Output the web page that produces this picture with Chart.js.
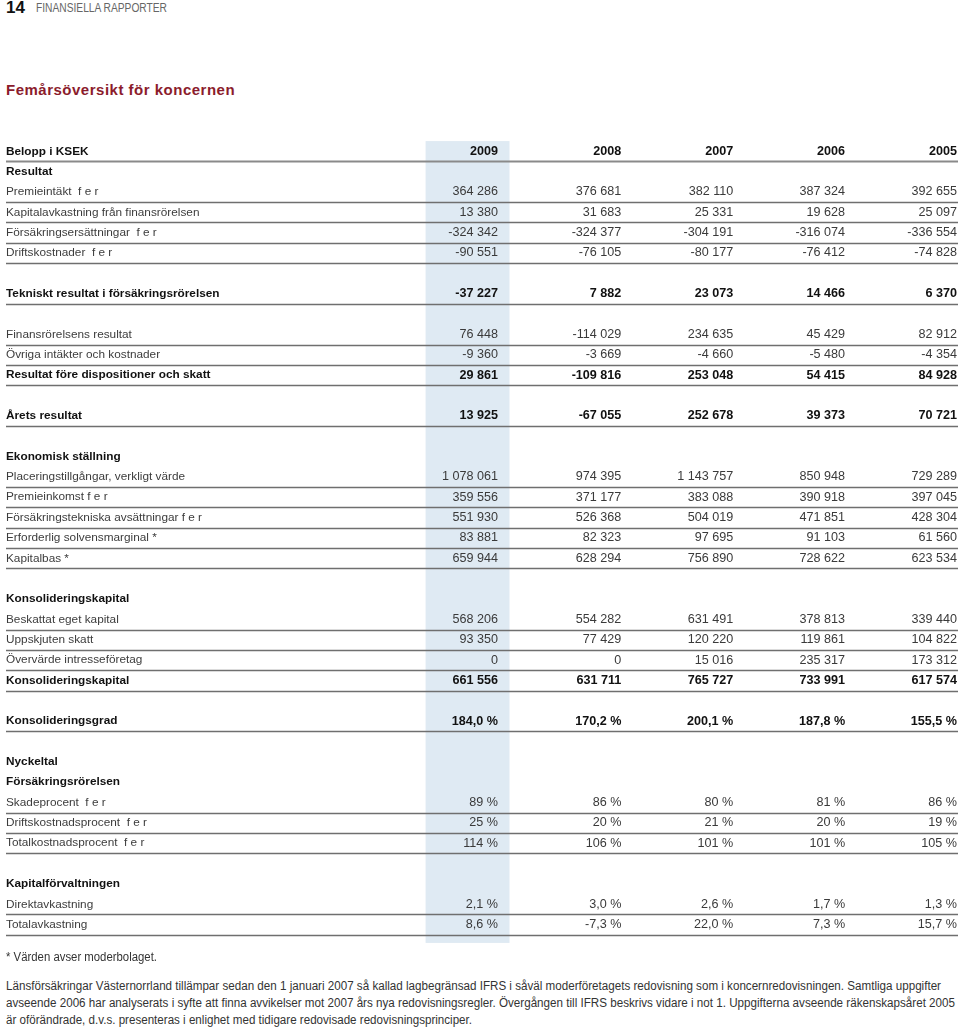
<!DOCTYPE html>
<html lang="sv">
<head>
<meta charset="utf-8">
<title>Femårsöversikt för koncernen</title>
<script src="https://cdn.jsdelivr.net/npm/chart.js@4.4.1/dist/chart.umd.min.js"></script>
<style>
  html, body { margin: 0; padding: 0; background: #fff; }
  body { width: 960px; height: 1028px; position: relative; overflow: hidden; font-family: "Liberation Sans", Arial, sans-serif; }
  .pageno { position: absolute; left: 6px; top: -1px; font-size: 17px; line-height: 18px; font-weight: bold; color: #111; }
  .section { position: absolute; left: 36px; top: 1px; font-size: 12.5px; line-height: 14px; color: #666; }
  .title { position: absolute; left: 6px; top: 81px; font-size: 15px; line-height: 18px; font-weight: bold; color: #8b1c2c; letter-spacing: 0.5px; }
  #wrap { position: absolute; left: 0; top: 134px; width: 960px; height: 816px; }
  .note { position: absolute; left: 6px; font-size: 12.5px; line-height: 17px; color: #333; white-space: nowrap; }
  .fit { display: inline-block; transform-origin: 0 50%; }
</style>
</head>
<body>
<div class="pageno">14</div>
<div class="section fit" data-w="131">FINANSIELLA RAPPORTER</div>
<div class="title">Femårsöversikt för koncernen</div>
<div id="wrap"><canvas id="tableChart"></canvas></div>
<div class="note fit" data-w="151" style="top:949px">* Värden avser moderbolaget.</div>
<div class="note fit" data-w="935" style="top:978px">Länsförsäkringar Västernorrland tillämpar sedan den 1 januari 2007 så kallad lagbegränsad IFRS i såväl moderföretagets redovisning som i koncernredovisningen. Samtliga uppgifter</div>
<div class="note fit" data-w="949" style="top:995px">avseende 2006 har analyserats i syfte att finna avvikelser mot 2007 års nya redovisningsregler. Övergången till IFRS beskrivs vidare i not 1. Uppgifterna avseende räkenskapsåret 2005</div>
<div class="note fit" data-w="466" style="top:1012px">är oförändrade, d.v.s. presenteras i enlighet med tidigare redovisade redovisningsprinciper.</div>
<script>
const years = [2009, 2008, 2007, 2006, 2005];
const highlightYear = 2009;

const premieintakt = [364286, 376681, 382110, 387324, 392655];
const kapitalavkastning = [13380, 31683, 25331, 19628, 25097];
const ersattningar = [-324342, -324377, -304191, -316074, -336554];
const driftskostnader = [-90551, -76105, -80177, -76412, -74828];
const tekniskt = [-37227, 7882, 23073, 14466, 6370];
const finansrorelsen = [76448, -114029, 234635, 45429, 82912];
const ovriga = [-9360, -3669, -4660, -5480, -4354];
const resultatFore = [29861, -109816, 253048, 54415, 84928];
const aretsResultat = [13925, -67055, 252678, 39373, 70721];
const placeringar = [1078061, 974395, 1143757, 850948, 729289];
const premieinkomst = [359556, 371177, 383088, 390918, 397045];
const avsattningar = [551930, 526368, 504019, 471851, 428304];
const solvensmarginal = [83881, 82323, 97695, 91103, 61560];
const kapitalbas = [659944, 628294, 756890, 728622, 623534];
const beskattat = [568206, 554282, 631491, 378813, 339440];
const uppskjuten = [93350, 77429, 120220, 119861, 104822];
const overvarde = [0, 0, 15016, 235317, 173312];
const konsKapital = [661556, 631711, 765727, 733991, 617574];
const konsGrad = [184.0, 170.2, 200.1, 187.8, 155.5];
const skadeprocent = [89, 86, 80, 81, 86];
const driftsprocent = [25, 20, 21, 20, 19];
const totalkostnad = [114, 106, 101, 101, 105];
const direktavkastning = [2.1, 3.0, 2.6, 1.7, 1.3];
const totalavkastning = [8.6, -7.3, 22.0, 7.3, 15.7];

// [label, values, format, bold]
const rows = [
  ["Belopp i KSEK", years, "year", true],
  ["Resultat", null, null, true],
  ["Premieintäkt  f e r", premieintakt, "int", false],
  ["Kapitalavkastning från finansrörelsen", kapitalavkastning, "int", false],
  ["Försäkringsersättningar  f e r", ersattningar, "int", false],
  ["Driftskostnader  f e r", driftskostnader, "int", false],
  ["", null, null, false],
  ["Tekniskt resultat i försäkringsrörelsen", tekniskt, "int", true],
  ["", null, null, false],
  ["Finansrörelsens resultat", finansrorelsen, "int", false],
  ["Övriga intäkter och kostnader", ovriga, "int", false],
  ["Resultat före dispositioner och skatt", resultatFore, "int", true],
  ["", null, null, false],
  ["Årets resultat", aretsResultat, "int", true],
  ["", null, null, false],
  ["Ekonomisk ställning", null, null, true],
  ["Placeringstillgångar, verkligt värde", placeringar, "int", false],
  ["Premieinkomst f e r", premieinkomst, "int", false],
  ["Försäkringstekniska avsättningar f e r", avsattningar, "int", false],
  ["Erforderlig solvensmarginal *", solvensmarginal, "int", false],
  ["Kapitalbas *", kapitalbas, "int", false],
  ["", null, null, false],
  ["Konsolideringskapital", null, null, true],
  ["Beskattat eget kapital", beskattat, "int", false],
  ["Uppskjuten skatt", uppskjuten, "int", false],
  ["Övervärde intresseföretag", overvarde, "int", false],
  ["Konsolideringskapital", konsKapital, "int", true],
  ["", null, null, false],
  ["Konsolideringsgrad", konsGrad, "pct1", true],
  ["", null, null, false],
  ["Nyckeltal", null, null, true],
  ["Försäkringsrörelsen", null, null, true],
  ["Skadeprocent  f e r", skadeprocent, "pct0", false],
  ["Driftskostnadsprocent  f e r", driftsprocent, "pct0", false],
  ["Totalkostnadsprocent  f e r", totalkostnad, "pct0", false],
  ["", null, null, false],
  ["Kapitalförvaltningen", null, null, true],
  ["Direktavkastning", direktavkastning, "pct1", false],
  ["Totalavkastning", totalavkastning, "pct1", false]
];

const labelFont = "'Liberation Sans', Arial, sans-serif";

function groupDigits(n) {
  const s = String(Math.abs(n)).replace(/\B(?=(\d{3})+(?!\d))/g, " ");
  return (n < 0 ? "-" : "") + s;
}

function formatCell(v, kind) {
  if (kind === "year") return String(v);
  if (kind === "int") return groupDigits(v);
  if (kind === "pct0") return v + " %";
  return v.toFixed(1).replace(".", ",") + " %";
}

const tablePlugin = {
  id: "tablePlugin",
  beforeDraw(chart) {
    const { ctx, chartArea, scales: { x } } = chart;
    const left = x.getPixelForValue(highlightYear + 0.75);
    const right = x.getPixelForValue(highlightYear);
    ctx.save();
    ctx.fillStyle = "#dfeaf3";
    ctx.fillRect(left, chartArea.top, right - left, chartArea.bottom - chartArea.top);
    ctx.restore();
  },
  afterDraw(chart) {
    const { ctx, chartArea, scales: { x, y } } = chart;
    ctx.save();
    ctx.textBaseline = "middle";
    ctx.textAlign = "right";
    rows.forEach((row, i) => {
      const [, values, kind, bold] = row;
      if (!values) return;
      const py = y.getPixelForValue(i);
      ctx.font = (bold ? "bold " : "") + "12.6px " + labelFont;
      ctx.fillStyle = bold ? "#111" : "#3a3a3a";
      values.forEach((v, j) => {
        const yr = years[j];
        const px = x.getPixelForValue(yr) - (yr === highlightYear ? 11.5 : 0);
        ctx.fillText(formatCell(v, kind), px, py);
      });
      const ly = Math.round(y.getPixelForValue(i + 0.5)) + 0.5;
      ctx.strokeStyle = i === 0 ? "#8a8a8a" : "#6f6f6f";
      ctx.lineWidth = i === 0 ? 2 : 1.4;
      ctx.beginPath();
      ctx.moveTo(6, ly);
      ctx.lineTo(chartArea.right + 1, ly);
      ctx.stroke();
    });
    ctx.restore();
  }
};

function initChart() {
  const ctx = document.getElementById("tableChart").getContext("2d");
  new Chart(ctx, {
    type: "line",
    data: { datasets: [] },
    plugins: [tablePlugin],
    options: {
      responsive: true,
      maintainAspectRatio: false,
      animation: false,
      events: [],
      layout: { padding: { left: 6, right: 3, top: 5.8, bottom: 4.5 } },
      plugins: { legend: { display: false }, tooltip: { enabled: false } },
      scales: {
        x: {
          type: "linear",
          display: false,
          offset: false,
          reverse: true,
          bounds: "data",
          min: 2005,
          max: 2009.8
        },
        y: {
          type: "linear",
          position: "left",
          offset: false,
          reverse: true,
          bounds: "data",
          min: -0.5,
          max: 38.9,
          grid: { display: false },
          border: { display: false },
          afterBuildTicks: (scale) => {
            scale.ticks = rows.map((r, i) => ({ value: i }));
          },
          afterFit: (scale) => {
            scale.width = 414;
          },
          ticks: {
            autoSkip: false,
            crossAlign: "far",
            padding: 0,
            callback: (value) => rows[value] ? rows[value][0] : "",
            font: (c) => ({
              family: labelFont,
              size: 11.8,
              weight: rows[c.index] && rows[c.index][3] ? "bold" : "normal"
            }),
            color: (c) => rows[c.index] && rows[c.index][3] ? "#111" : "#3c3c3c"
          }
        }
      }
    }
  });
}

function fitTexts() {
  document.querySelectorAll(".fit").forEach((el) => {
    const w = el.getBoundingClientRect().width;
    const target = Number(el.dataset.w);
    if (w > 0 && target) el.style.transform = "scaleX(" + (target / w) + ")";
  });
}

window.onload = () => {
  fitTexts();
  initChart();
};
</script>
</body>
</html>
